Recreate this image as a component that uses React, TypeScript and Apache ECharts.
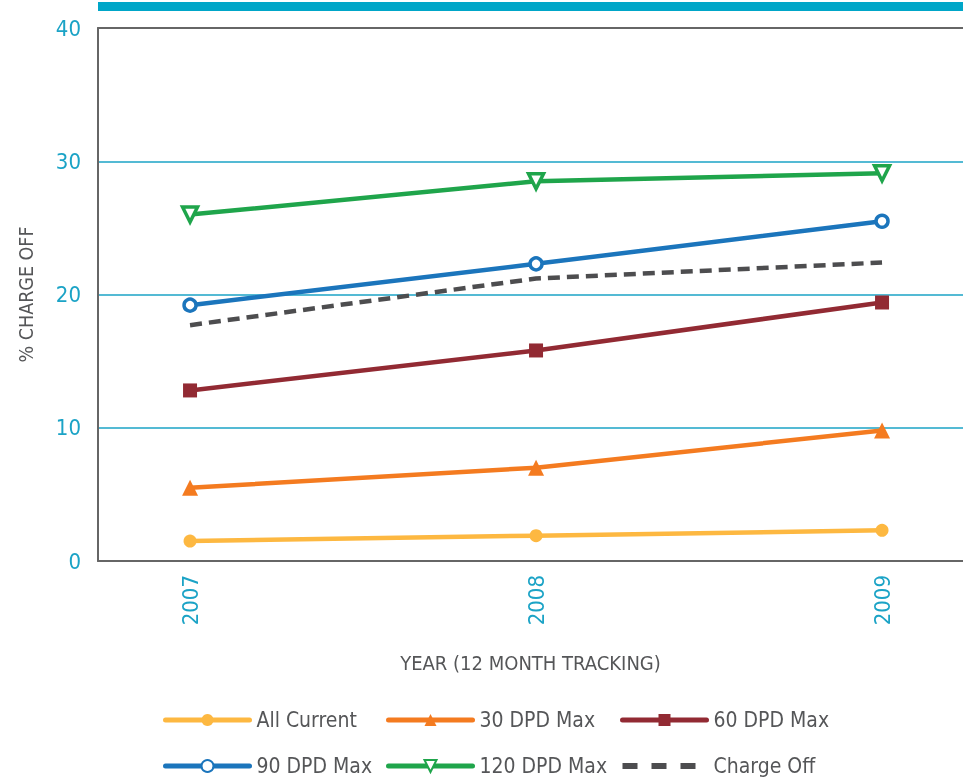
import React, { useEffect, useRef } from "react";
import * as echarts from "echarts";

const years = [2007, 2008, 2009];
const allCurrent = [1.5, 1.9, 2.3];
const dpd30 = [5.5, 7.0, 9.8];
const dpd60 = [12.8, 15.8, 19.4];
const dpd90 = [19.2, 22.3, 25.5];
const dpd120 = [26.0, 28.5, 29.1];
const chargeOff = [17.7, 21.2, 22.4];
const yTicks = [0, 10, 20, 30, 40];

const FONT = "'Liberation Sans Narrow', 'DejaVu Sans Condensed', Roboto, sans-serif";
const CYAN = "#1BA3C6";
const GRAY = "#555658";
const DASH_ICON =
  "path://M0,0L0,0ZM84,15L84,15ZM0,4.5h15v6h-15zM29,4.5h15v6h-15zM58,4.5h15v6h-15z";

export default function App() {
  const ref = useRef<HTMLDivElement>(null);
  useEffect(() => {
    if (!ref.current) return;
    const chart = echarts.init(ref.current, null, { renderer: "svg" });
    const pair = (arr: number[]) => years.map((y, i) => [y, arr[i]]);
    const lineSeries = (name: string, arr: number[], color: string, extra: any) => ({
      name,
      type: "line",
      data: pair(arr),
      lineStyle: { color, width: 4.5 },
      itemStyle: { color },
      symbolSize: 13,
      ...extra,
    });
    const legendBase = {
      orient: "vertical",
      top: 708,
      height: 74,
      padding: 0,
      itemWidth: 84,
      itemHeight: 15,
      itemGap: 22,
      lineStyle: { width: 5, cap: "round" },
      textStyle: { color: GRAY, fontSize: 21, lineHeight: 24, fontFamily: FONT, padding: [0, 0, 0, 2] },
    };
    chart.setOption({
      animation: false,
      textStyle: { fontFamily: FONT },
      graphic: [
        { type: "rect", shape: { x: 98, y: 2, width: 870, height: 9 }, style: { fill: "#00A6C8" } },
      ],
      grid: { left: 98, right: 0, top: 28, bottom: 221 },
      xAxis: [
        {
          type: "value",
          min: 2006.734,
          max: 2009.234,
          axisLine: { show: true, lineStyle: { color: "#666", width: 2 } },
          axisTick: { show: false },
          splitLine: { show: false },
          axisLabel: {
            customValues: years,
            rotate: 90,
            color: CYAN,
            fontSize: 22,
            fontFamily: FONT,
            margin: 14,
            formatter: (v: number) => String(Math.round(v)),
          },
          name: "YEAR (12 MONTH TRACKING)",
          nameLocation: "middle",
          nameGap: 92,
          nameTextStyle: { color: GRAY, fontSize: 20, fontFamily: FONT },
        },
        {
          type: "value",
          position: "top",
          min: 2006.734,
          max: 2009.234,
          axisLine: { show: true, lineStyle: { color: "#666", width: 2 } },
          axisTick: { show: false },
          axisLabel: { show: false },
          splitLine: { show: false },
        },
      ],
      yAxis: {
        type: "value",
        min: yTicks[0],
        max: yTicks[yTicks.length - 1],
        interval: 10,
        axisLine: { show: true, lineStyle: { color: "#666", width: 2 } },
        axisTick: { show: false },
        splitLine: { show: true, showMinLine: false, showMaxLine: false, lineStyle: { color: CYAN, width: 1.5 } },
        axisLabel: { color: CYAN, fontSize: 22, fontFamily: FONT, margin: 17 },
        name: "% CHARGE OFF",
        nameLocation: "middle",
        nameGap: 62,
        nameRotate: 90,
        nameTextStyle: { color: GRAY, fontSize: 19.5, fontFamily: FONT },
      },
      legend: [
        { ...legendBase, left: 163, data: ["All Current", "90 DPD Max"] },
        { ...legendBase, left: 386, data: ["30 DPD Max", "120 DPD Max"] },
        {
          ...legendBase,
          left: 620,
          data: [
            "60 DPD Max",
            {
              name: "Charge Off",
              icon: DASH_ICON,
              itemStyle: { color: "#4D4D4F", borderWidth: 0 },
            },
          ],
        },
      ],
      series: [
        lineSeries("All Current", allCurrent, "#FDB841", { symbol: "circle" }),
        lineSeries("30 DPD Max", dpd30, "#F47B20", { symbol: "triangle", symbolSize: 16 }),
        lineSeries("60 DPD Max", dpd60, "#922A33", { symbol: "rect", symbolSize: 14 }),
        lineSeries("90 DPD Max", dpd90, "#1B75BC", {
          symbol: "circle",
          symbolSize: 12,
          itemStyle: { color: "#fff", borderColor: "#1B75BC", borderWidth: 3.5 },
        }),
        lineSeries("120 DPD Max", dpd120, "#1FA54B", {
          symbol: "triangle",
          symbolRotate: 180,
          symbolSize: 15,
          itemStyle: { color: "#fff", borderColor: "#1FA54B", borderWidth: 3.5 },
        }),
        {
          name: "Charge Off",
          type: "line",
          data: pair(chargeOff),
          symbol: "none",
          lineStyle: { color: "#4D4D4F", width: 4.5, type: [12, 7] },
          itemStyle: { color: "#4D4D4F" },
        },
      ],
    });
    return () => chart.dispose();
  }, []);
  return <div ref={ref} style={{ position: "fixed", left: 0, top: 0, width: 963, height: 782 }} />;
}
